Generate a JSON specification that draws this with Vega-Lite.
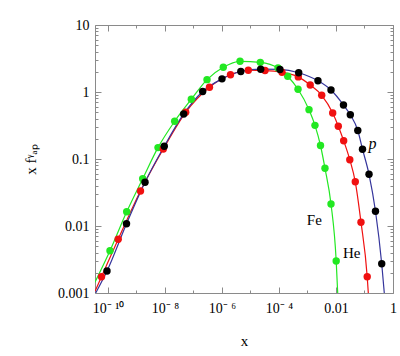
{
  "$schema": "https://vega.github.io/schema/vega-lite/v6.json",
  "width": 298,
  "height": 268,
  "autosize": {"type": "none"},
  "padding": {"left": 95, "top": 25, "right": 7, "bottom": 63},
  "background": "white",
  "config": {
    "view": {"stroke": null},
    "font": "Liberation Serif",
    "axis": {
      "grid": false,
      "domainColor": "#8a8a8a",
      "tickColor": "#8a8a8a",
      "labelFont": "Liberation Serif",
      "labelFontSize": 14,
      "labelColor": "black",
      "titleFont": "Liberation Serif",
      "titleFontSize": 15,
      "titleFontWeight": "normal",
      "titleColor": "black"
    }
  },
  "datasets": {
    "curves": [
      {"series": "Fe", "x": 3.5e-11, "y": 0.00145, "dot": false},
      {"series": "Fe", "x": 1.175e-10, "y": 0.00427, "dot": true},
      {"series": "Fe", "x": 4.53e-10, "y": 0.0163, "dot": true},
      {"series": "Fe", "x": 1.65e-9, "y": 0.0508, "dot": true},
      {"series": "Fe", "x": 5.68e-9, "y": 0.148, "dot": true},
      {"series": "Fe", "x": 2.19e-8, "y": 0.366, "dot": true},
      {"series": "Fe", "x": 8.38e-8, "y": 0.778, "dot": true},
      {"series": "Fe", "x": 2.98e-7, "y": 1.53, "dot": true},
      {"series": "Fe", "x": 1.11e-6, "y": 2.34, "dot": true},
      {"series": "Fe", "x": 4.29e-6, "y": 2.87, "dot": true},
      {"series": "Fe", "x": 2.21e-5, "y": 2.77, "dot": true},
      {"series": "Fe", "x": 9.23e-5, "y": 2.28, "dot": true},
      {"series": "Fe", "x": 2.02e-4, "y": 1.72, "dot": true},
      {"series": "Fe", "x": 4.65e-4, "y": 1.10, "dot": true},
      {"series": "Fe", "x": 1.13e-3, "y": 0.545, "dot": true},
      {"series": "Fe", "x": 1.83e-3, "y": 0.318, "dot": true},
      {"series": "Fe", "x": 2.86e-3, "y": 0.159, "dot": true},
      {"series": "Fe", "x": 4.11e-3, "y": 0.0726, "dot": true},
      {"series": "Fe", "x": 6.68e-3, "y": 0.0213, "dot": true},
      {"series": "Fe", "x": 0.01016, "y": 0.00301, "dot": true},
      {"series": "Fe", "x": 0.01148, "y": 0.001, "dot": false},
      {"series": "He", "x": 3.5e-11, "y": 0.00106, "dot": false},
      {"series": "He", "x": 5.92e-11, "y": 0.00175, "dot": true},
      {"series": "He", "x": 2.28e-10, "y": 0.00635, "dot": true},
      {"series": "He", "x": 1.38e-9, "y": 0.0333, "dot": true},
      {"series": "He", "x": 8.71e-9, "y": 0.141, "dot": true},
      {"series": "He", "x": 5.32e-8, "y": 0.498, "dot": true},
      {"series": "He", "x": 3.64e-7, "y": 1.18, "dot": true},
      {"series": "He", "x": 1.99e-6, "y": 1.81, "dot": true},
      {"series": "He", "x": 8.38e-6, "y": 2.11, "dot": true},
      {"series": "He", "x": 3.23e-5, "y": 2.09, "dot": true},
      {"series": "He", "x": 1.27e-4, "y": 1.97, "dot": true},
      {"series": "He", "x": 4.75e-4, "y": 1.68, "dot": true},
      {"series": "He", "x": 1.245e-3, "y": 1.27, "dot": true},
      {"series": "He", "x": 3.15e-3, "y": 0.893, "dot": true},
      {"series": "He", "x": 7.66e-3, "y": 0.486, "dot": true},
      {"series": "He", "x": 0.01205, "y": 0.309, "dot": true},
      {"series": "He", "x": 0.0186, "y": 0.187, "dot": true},
      {"series": "He", "x": 0.0305, "y": 0.0977, "dot": true},
      {"series": "He", "x": 0.0475, "y": 0.0457, "dot": true},
      {"series": "He", "x": 0.0753, "y": 0.0114, "dot": true},
      {"series": "He", "x": 0.1245, "y": 0.00175, "dot": true},
      {"series": "He", "x": 0.136, "y": 0.001, "dot": false},
      {"series": "p", "x": 3.7e-11, "y": 0.001, "dot": false},
      {"series": "p", "x": 9.23e-11, "y": 0.00213, "dot": true},
      {"series": "p", "x": 4.46e-10, "y": 0.0108, "dot": true},
      {"series": "p", "x": 1.99e-9, "y": 0.0451, "dot": true},
      {"series": "p", "x": 9.44e-9, "y": 0.155, "dot": true},
      {"series": "p", "x": 4.53e-8, "y": 0.470, "dot": true},
      {"series": "p", "x": 2.10e-7, "y": 1.017, "dot": true},
      {"series": "p", "x": 1.0e-6, "y": 1.57, "dot": true},
      {"series": "p", "x": 4.57e-6, "y": 2.02, "dot": true},
      {"series": "p", "x": 2.28e-5, "y": 2.19, "dot": true},
      {"series": "p", "x": 1.08e-4, "y": 2.17, "dot": true},
      {"series": "p", "x": 4.91e-4, "y": 1.94, "dot": true},
      {"series": "p", "x": 2.33e-3, "y": 1.47, "dot": true},
      {"series": "p", "x": 6.68e-3, "y": 1.07, "dot": true},
      {"series": "p", "x": 0.0183, "y": 0.640, "dot": true},
      {"series": "p", "x": 0.0318, "y": 0.458, "dot": true},
      {"series": "p", "x": 0.0582, "y": 0.266, "dot": true},
      {"series": "p", "x": 0.0851, "y": 0.140, "dot": true},
      {"series": "p", "x": 0.144, "y": 0.0592, "dot": true},
      {"series": "p", "x": 0.243, "y": 0.0166, "dot": true},
      {"series": "p", "x": 0.402, "y": 0.00273, "dot": true},
      {"series": "p", "x": 0.495, "y": 0.001, "dot": false}
    ],
    "labels": [
      {"label": "Fe", "x": 0.00173, "y": 0.0123},
      {"label": "He", "x": 0.0356, "y": 0.00392}
    ],
    "plabel": [
      {"label": "p", "x": 0.191, "y": 0.170}
    ]
  },
  "resolve": {"axis": {"x": "independent", "y": "independent"}},
  "layer": [
    {
      "data": {"name": "curves"},
      "mark": {"type": "line", "interpolate": "monotone", "strokeWidth": 1.2, "clip": true},
      "encoding": {
        "x": {
          "field": "x", "type": "quantitative",
          "scale": {"type": "log", "domain": [3.5e-11, 1], "nice": false},
          "axis": {
            "orient": "bottom",
            "values": [1e-10, 1e-8, 1e-6, 1e-4, 0.01, 1],
            "tickSize": -6,
            "labelPadding": 14,
            "labelFlush": false,
            "labelExpr": "datum.value > 0.5 ? '1' : datum.value > 0.005 ? '0.01' : datum.value > 5e-5 ? '10⁻ ⁴' : datum.value > 5e-7 ? '10⁻ ⁶' : datum.value > 5e-9 ? '10⁻ ⁸' : '10⁻ ¹⁰'",
            "title": "x",
            "titlePadding": 18
          }
        },
        "y": {
          "field": "y", "type": "quantitative",
          "scale": {"type": "log", "domain": [0.001, 10], "nice": false},
          "axis": {
            "orient": "left",
            "values": [0.001, 0.01, 0.1, 1, 10],
            "tickSize": -6,
            "labelPadding": 12,
            "labelFlush": false,
            "labelExpr": "datum.value > 5 ? '10' : datum.value > 0.5 ? '1' : datum.value > 0.05 ? '0.1' : datum.value > 0.005 ? '0.01' : '0.001'",
            "title": "x  fᵞₐₚ",
            "titlePadding": 19
          }
        },
        "color": {
          "field": "series", "type": "nominal",
          "scale": {"domain": ["Fe", "He", "p"], "range": ["#22e822", "#f01010", "#35359c"]},
          "legend": null
        }
      }
    },
    {
      "data": {"name": "curves"},
      "transform": [{"filter": "datum.dot && datum.series != 'p'"}],
      "mark": {"type": "circle", "size": 55, "opacity": 1},
      "encoding": {
        "x": {
          "field": "x", "type": "quantitative",
          "axis": {"orient": "top", "values": [1e-10, 1e-8, 1e-6, 1e-4, 0.01, 1], "tickSize": -6, "labels": false, "title": null}
        },
        "y": {
          "field": "y", "type": "quantitative",
          "axis": {"orient": "right", "values": [0.001, 0.01, 0.1, 1, 10], "tickSize": -6, "labels": false, "title": null}
        },
        "color": {"field": "series", "type": "nominal", "legend": null}
      }
    },
    {
      "data": {"name": "curves"},
      "transform": [{"filter": "datum.dot && datum.series == 'p'"}],
      "mark": {"type": "circle", "size": 55, "opacity": 1, "color": "black"},
      "encoding": {
        "x": {
          "field": "x", "type": "quantitative",
          "axis": {"orient": "bottom", "values": [1e-9, 1e-7, 1e-5, 1e-3, 0.1], "tickSize": -3, "labels": false, "domain": false, "title": null}
        },
        "y": {
          "field": "y", "type": "quantitative",
          "axis": {"orient": "left", "values": [0.002, 0.003, 0.004, 0.005, 0.006, 0.007, 0.008, 0.009, 0.02, 0.03, 0.04, 0.05, 0.06, 0.07, 0.08, 0.09, 0.2, 0.3, 0.4, 0.5, 0.6, 0.7, 0.8, 0.9, 2, 3, 4, 5, 6, 7, 8, 9], "tickSize": -3, "labels": false, "domain": false, "title": null}
        }
      }
    },
    {
      "data": {"name": "labels"},
      "mark": {"type": "text", "font": "Liberation Serif", "fontSize": 15, "color": "black"},
      "encoding": {
        "x": {
          "field": "x", "type": "quantitative",
          "axis": {"orient": "top", "values": [1e-9, 1e-7, 1e-5, 1e-3, 0.1], "tickSize": -3, "labels": false, "domain": false, "title": null}
        },
        "y": {
          "field": "y", "type": "quantitative",
          "axis": {"orient": "right", "values": [0.002, 0.003, 0.004, 0.005, 0.006, 0.007, 0.008, 0.009, 0.02, 0.03, 0.04, 0.05, 0.06, 0.07, 0.08, 0.09, 0.2, 0.3, 0.4, 0.5, 0.6, 0.7, 0.8, 0.9, 2, 3, 4, 5, 6, 7, 8, 9], "tickSize": -3, "labels": false, "domain": false, "title": null}
        },
        "text": {"field": "label"}
      }
    },
    {
      "data": {"name": "plabel"},
      "mark": {"type": "text", "font": "Liberation Serif", "fontSize": 16, "fontStyle": "italic", "color": "black"},
      "encoding": {
        "x": {"field": "x", "type": "quantitative", "axis": null},
        "y": {"field": "y", "type": "quantitative", "axis": null},
        "text": {"field": "label"}
      }
    }
  ]
}
